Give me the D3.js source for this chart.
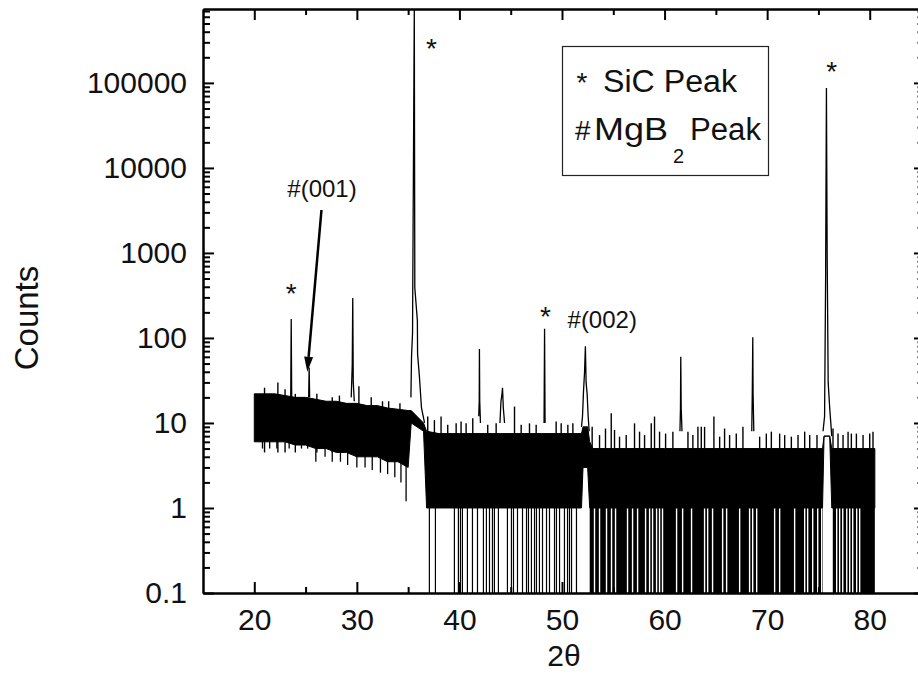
<!DOCTYPE html>
<html>
<head>
<meta charset="utf-8">
<script src="https://cdn.jsdelivr.net/npm/d3@7"></script>
<style>
  body { margin: 0; background: #fff; }
  text { font-family: "Liberation Sans", Arial, sans-serif; fill: #111; }
</style>
</head>
<body>
<div id="graf"></div>
<script>
// Difractograma (XRD) de MgB2 con SiC, eje Y logarítmico
// Datos leídos a ojo de la figura original

// I. Datos

// Envolvente del ruido de fondo: 2θ, tope y piso (cuentas)
fondoX    = [20, 21, 22, 23, 24, 25, 26, 27, 28, 29, 30, 31, 32, 33, 34, 35,
             35.3, 36.5, 36.8, 38, 40, 42, 44, 46, 48, 50,
             51.9, 52.05, 52.5, 52.7, 53, 55, 60, 65, 70, 75, 75.4, 75.55, 76.1, 76.3, 78, 80.5]
fondoTope = [22, 22, 22, 21, 20, 20, 19, 18, 18, 17, 17, 16, 16, 15, 14.5, 14,
             14, 10, 8, 7.5, 7.5, 7.5, 7.5, 7.5, 7.5, 7.5,
             7.5, 9, 9, 6, 5, 5, 5, 5, 5, 5, 5, 7, 7, 5, 5, 5]
fondoPiso = [6, 6, 6, 6, 5.5, 5.5, 5, 5, 4.5, 4.5, 4, 4, 4, 3.5, 3.5, 3,
             10, 8, 1, 1, 1, 1, 1, 1, 1, 1,
             1, 3, 3, 1, 1, 1, 1, 1, 1, 1, 1, 7, 7, 1, 1, 1]

// Espigas de ruido que sobresalen del fondo
espigaX = [21.0, 22.3, 23.0, 24.0, 26.1, 27.6, 28.3, 30.2, 31.4, 32.5, 33.1, 34.2,
           36.91, 37.56, 38.21, 38.86, 39.68, 40.16, 40.65, 41.30, 42.76, 43.58, 45.37, 46.02, 46.83, 47.48, 49.43, 49.92, 50.57, 51.06,
           52.94, 53.66, 54.24, 54.8, 55.12, 55.61, 56.26, 57.07, 57.56, 58.05, 58.70, 59.02, 59.51, 60.10, 60.81, 62.28, 62.76, 63.25,
           63.58, 63.90, 64.81, 65.37, 65.85, 66.34, 66.99, 67.64, 69.27, 69.92, 70.41, 71.22, 71.71, 72.36, 73.01, 73.66, 74.15, 74.86,
           76.42, 76.91, 77.40, 77.89, 78.21, 78.70, 79.35, 80.0, 80.32]
espigaY = [26, 30, 25, 22, 22, 20, 21, 27, 20, 18, 18, 17,
           11.9, 10.8, 11.9, 9.5, 9.9, 10.4, 9.9, 11.4, 9.5, 9.9, 15.6, 9.5, 9.9, 9.5, 10.4, 9.9, 9.5, 9.9,
           9, 7.2, 8.6, 13, 8.3, 6.9, 7.2, 9.9, 7.9, 7.2, 9.9, 11.9, 7.9, 7.5, 7.9, 7.9, 7.2, 9,
           9, 9, 11.9, 6.9, 8.6, 7.2, 7.5, 9, 6.9, 7.5, 7.9, 7.5, 7.2, 6.9, 7.2, 7.9, 7.2, 7.2,
           8.6, 7.5, 7.2, 7.9, 7.5, 7.5, 7.2, 7.5, 7.9]

// Caídas del ruido hacia abajo (zona 20-35)
caidaX = [20.8, 21.5, 22.2, 23.4, 24.6, 25.2, 26.0, 26.9, 27.6, 28.4, 29.1, 30.0, 30.8, 31.5, 32.3, 33.0, 33.7, 34.3, 34.8]
caidaY = [5, 5, 5, 5, 5, 5, 3.5, 4, 3.5, 3.5, 3.2, 3, 3, 2.8, 2.6, 2.5, 2.3, 2, 1.2]

// Puntos con cero cuentas (la línea baja hasta el eje)
ceroX = [37.07, 37.66, 39.51, 39.90, 40.10, 40.29, 40.78, 41.27, 41.76, 42.34, 42.63, 42.93, 43.22, 43.41, 43.80, 44.68, 45.07, 45.27, 45.66, 46.15, 46.54, 46.73, 47.02, 47.32, 47.51, 47.80, 48.10, 48.49, 48.78, 49.27, 49.46, 49.76, 50.24, 50.54, 50.73, 50.93, 51.41]

// Zonas donde los ceros son casi continuos, y los huecos blancos dentro de ellas
bloquesCero = [[52.7, 75.4], [76.4, 80.5]]
huecosCero  = [53.17, 53.66, 54.34, 54.83, 55.22, 56.39, 56.88, 57.37, 58.15, 58.54, 58.83, 59.22, 59.51, 59.80, 61.17, 61.76, 62.63, 63.90, 64.20, 64.68, 65.66, 66.05, 67.32, 68.29, 68.59, 68.98, 70.73, 71.22, 72.68, 73.66, 73.95, 74.44, 74.93, 75.32, 76.78, 77.07, 77.37, 77.76, 78.05, 78.34, 78.73, 79.02]

// Perfiles de los picos [2θ, cuentas]
pico236 = [[23.55, 18], [23.6, 167], [23.65, 18]]
pico253 = [[25.3, 20], [25.35, 45], [25.4, 20]]
pico296 = [[29.45, 20], [29.55, 48], [29.6, 295], [29.65, 30], [29.75, 18]]
pico356 = [[35.27, 20], [35.33, 60], [35.43, 115], [35.45, 390], [35.6, 750000], [35.65, 390], [35.9, 160], [35.92, 65], [36.1, 35], [36.3, 15], [36.6, 10]]
pico420 = [[41.88, 12], [41.93, 18], [41.95, 74], [41.98, 18], [42.05, 10]]
pico442 = [[43.95, 10], [44.05, 18], [44.15, 22], [44.2, 26], [44.28, 15], [44.4, 10]]
pico483 = [[48.25, 10], [48.3, 128], [48.35, 10]]
pico523 = [[51.9, 9], [52.0, 12], [52.1, 24], [52.2, 40], [52.28, 80], [52.35, 30], [52.45, 22], [52.55, 12], [52.65, 8]]
pico616 = [[61.5, 8], [61.55, 15], [61.58, 60], [61.62, 15], [61.7, 8]]
pico686 = [[68.5, 8], [68.55, 22], [68.6, 102], [68.63, 22], [68.7, 8]]
pico758 = [[75.45, 8], [75.6, 12], [75.7, 500], [75.78, 87000], [75.85, 1000], [75.95, 30], [76.1, 15], [76.3, 7]]
picos = [pico236, pico253, pico296, pico356, pico420, pico442, pico483, pico523, pico616, pico686, pico758]

// Marcas de los ejes
mayoresX   = [20, 30, 40, 50, 60, 70, 80]
menoresX   = [25, 35, 45, 55, 65, 75]
mayoresY   = [0.1, 1, 10, 100, 1000, 10000, 100000]
etiquetasY = ['0.1', '1', '10', '100', '1000', '10000', '100000']

// II. Configuración
graf = d3.select('#graf')
ancho_total = 918
alto_total  = 691

margins = { top: 9, left: 203, right: -3, bottom: 98 }
ancho = ancho_total - margins.left - margins.right
alto  = alto_total - margins.top - margins.bottom

svg = graf.append('svg')
          .attr('width', ancho_total)
          .attr('height', alto_total)

svg.append('rect')
   .attr('width', ancho_total)
   .attr('height', alto_total)
   .attr('fill', 'white')

g = svg.append('g')
       .attr('transform', `translate(${ margins.left }, ${ margins.top })`)

x = d3.scaleLinear().domain([15, 85]).range([0, ancho])
y = d3.scaleLog().domain([0.1, 7.4e5]).range([alto, 0])

g.append('clipPath')
  .attr('id', 'clip')
  .append('rect')
    .attr('x', 0).attr('y', 0)
    .attr('width', ancho).attr('height', alto)

plot = g.append('g').attr('clip-path', 'url(#clip)')

// III. Datos dibujados

// fondo de ruido
fondo = fondoX.map((d, i) => ({ x: d, tope: fondoTope[i], piso: fondoPiso[i] }))
area = d3.area()
         .x(d => x(d.x))
         .y0(d => y(d.piso))
         .y1(d => y(d.tope))
plot.append('path')
    .datum(fondo)
    .attr('d', area)
    .attr('fill', 'black')
    .attr('stroke', 'black')
    .attr('stroke-width', 1)

// bloques de ceros, partidos por los huecos
tramos = []
bloquesCero.forEach(([a, b]) => {
  let ini = x(a)
  huecosCero.filter(h => h > a && h < b).forEach(h => {
    tramos.push([ini, x(h) - 0.7])
    ini = x(h) + 0.7
  })
  tramos.push([ini, x(b)])
})
plot.selectAll('rect.tramo')
    .data(tramos)
    .join('rect')
      .attr('class', 'tramo')
      .attr('x', d => d[0])
      .attr('width', d => Math.max(0.5, d[1] - d[0]))
      .attr('y', y(1))
      .attr('height', alto - y(1))
      .attr('fill', 'black')

// ceros aislados
plot.selectAll('line.cero')
    .data(ceroX)
    .join('line')
      .attr('class', 'cero')
      .attr('x1', d => x(d)).attr('x2', d => x(d))
      .attr('y1', y(1)).attr('y2', alto)
      .attr('stroke', 'black')
      .attr('stroke-width', 1.2)

// espigas y caídas del ruido
plot.selectAll('line.espiga')
    .data(espigaX)
    .join('line')
      .attr('class', 'espiga')
      .attr('x1', d => x(d)).attr('x2', d => x(d))
      .attr('y1', y(4.5)).attr('y2', (d, i) => y(espigaY[i]))
      .attr('stroke', 'black')
      .attr('stroke-width', 1.4)

plot.selectAll('line.caida')
    .data(caidaX)
    .join('line')
      .attr('class', 'caida')
      .attr('x1', d => x(d)).attr('x2', d => x(d))
      .attr('y1', y(8)).attr('y2', (d, i) => y(caidaY[i]))
      .attr('stroke', 'black')
      .attr('stroke-width', 1.3)

// picos
linea = d3.line().x(d => x(d[0])).y(d => y(d[1]))
plot.selectAll('path.pico')
    .data(picos)
    .join('path')
      .attr('class', 'pico')
      .attr('d', linea)
      .attr('fill', 'none')
      .attr('stroke', 'black')
      .attr('stroke-width', 1.3)

// IV. Ejes
menoresY = []
d3.range(-1, 6).forEach(k => {
  d3.range(2, 10).forEach(m => {
    v = m * Math.pow(10, k)
    if (v < 7.4e5) menoresY.push(v)
  })
})

function estilo(sel, grosor) {
  sel.select('.domain').attr('stroke-width', 2).attr('stroke', 'black')
  sel.selectAll('.tick line').attr('stroke-width', grosor).attr('stroke', 'black')
  sel.selectAll('.tick text')
     .attr('font-size', '30px')
     .attr('font-family', '"Liberation Sans", Arial, sans-serif')
     .attr('fill', '#111')
}

// abajo
g.append('g').attr('transform', `translate(0,${alto})`)
  .call(d3.axisBottom(x).tickValues(menoresX).tickSizeInner(-6).tickSizeOuter(0).tickFormat(''))
  .call(s => estilo(s, 2))
g.append('g').attr('transform', `translate(0,${alto})`)
  .call(d3.axisBottom(x).tickValues(mayoresX).tickSizeInner(-11).tickSizeOuter(0).tickPadding(16).tickFormat(d3.format('d')))
  .call(s => estilo(s, 2))

// arriba
g.append('g')
  .call(d3.axisTop(x).tickValues(menoresX).tickSizeInner(-6).tickSizeOuter(0).tickFormat(''))
  .call(s => estilo(s, 2))
g.append('g')
  .call(d3.axisTop(x).tickValues(mayoresX).tickSizeInner(-11).tickSizeOuter(0).tickFormat(''))
  .call(s => estilo(s, 2))

// izquierda
g.append('g')
  .call(d3.axisLeft(y).tickValues(menoresY).tickSizeInner(-7).tickSizeOuter(0).tickFormat(''))
  .call(s => estilo(s, 2))
g.append('g')
  .call(d3.axisLeft(y).tickValues(mayoresY).tickSizeInner(-11).tickSizeOuter(0).tickPadding(16)
          .tickFormat((d, i) => etiquetasY[i]))
  .call(s => estilo(s, 2))

// derecha (casi fuera del cuadro)
g.append('g').attr('transform', `translate(${ancho},0)`)
  .call(d3.axisRight(y).tickValues(menoresY).tickSizeInner(-3.5).tickSizeOuter(0).tickFormat(''))
  .call(s => estilo(s, 2))
g.append('g').attr('transform', `translate(${ancho},0)`)
  .call(d3.axisRight(y).tickValues(mayoresY).tickSizeInner(-7).tickSizeOuter(0).tickFormat(''))
  .call(s => estilo(s, 2))

// títulos de ejes
svg.append('text')
   .attr('transform', 'translate(38, 318) rotate(-90)')
   .attr('text-anchor', 'middle')
   .attr('font-size', '33px')
   .text('Counts')

svg.append('text')
   .attr('x', 564)
   .attr('y', 666)
   .attr('text-anchor', 'middle')
   .attr('font-size', '30px')
   .text('2θ')

// V. Anotaciones de los picos
asteriscos = [[23.6, 258], [37.27, 197000], [48.39, 138], [76.29, 105600]]
asteriscos.forEach(([a, b]) => {
  g.append('text')
    .attr('x', x(a))
    .attr('y', y(b))
    .attr('text-anchor', 'middle')
    .attr('font-size', '28px')
    .text('*')
})

g.append('text')
  .attr('x', x(23.22)).attr('y', y(4600))
  .attr('font-size', '24px')
  .text('#(001)')

g.append('text')
  .attr('x', x(50.54)).attr('y', y(131))
  .attr('font-size', '24px')
  .text('#(002)')

// flecha hacia el pico (001)
x1 = x(26.55), y1 = y(3200), x2 = x(25.17), y2 = y(40)
ang = Math.atan2(y2 - y1, x2 - x1)
largo = 15, semi = 4.5
bx = x2 - largo * Math.cos(ang), by = y2 - largo * Math.sin(ang)
g.append('line')
  .attr('x1', x1).attr('y1', y1)
  .attr('x2', bx).attr('y2', by)
  .attr('stroke', 'black')
  .attr('stroke-width', 2.5)
g.append('path')
  .attr('d', `M${x2},${y2} L${bx + semi * Math.sin(ang)},${by - semi * Math.cos(ang)} L${bx - semi * Math.sin(ang)},${by + semi * Math.cos(ang)} Z`)
  .attr('fill', 'black')

// VI. Leyenda
svg.append('rect')
   .attr('x', 562.5).attr('y', 46.5)
   .attr('width', 206).attr('height', 129)
   .attr('fill', 'white')
   .attr('stroke', '#222')
   .attr('stroke-width', 1.2)

svg.append('text').attr('x', 582).attr('y', 92).attr('text-anchor', 'middle')
   .attr('font-size', '28px').text('*')
svg.append('text').attr('x', 603).attr('y', 92)
   .attr('font-size', '31px')
   .attr('textLength', 134).attr('lengthAdjust', 'spacingAndGlyphs')
   .text('SiC Peak')

svg.append('text').attr('x', 575).attr('y', 140)
   .attr('font-size', '28px').text('#')
svg.append('text').attr('x', 594).attr('y', 140)
   .attr('font-size', '31px')
   .attr('textLength', 74).attr('lengthAdjust', 'spacingAndGlyphs')
   .text('MgB')
svg.append('text').attr('x', 673).attr('y', 163)
   .attr('font-size', '20px').text('2')
svg.append('text').attr('x', 690).attr('y', 140)
   .attr('font-size', '31px')
   .attr('textLength', 71).attr('lengthAdjust', 'spacingAndGlyphs')
   .text('Peak')
</script>
</body>
</html>
